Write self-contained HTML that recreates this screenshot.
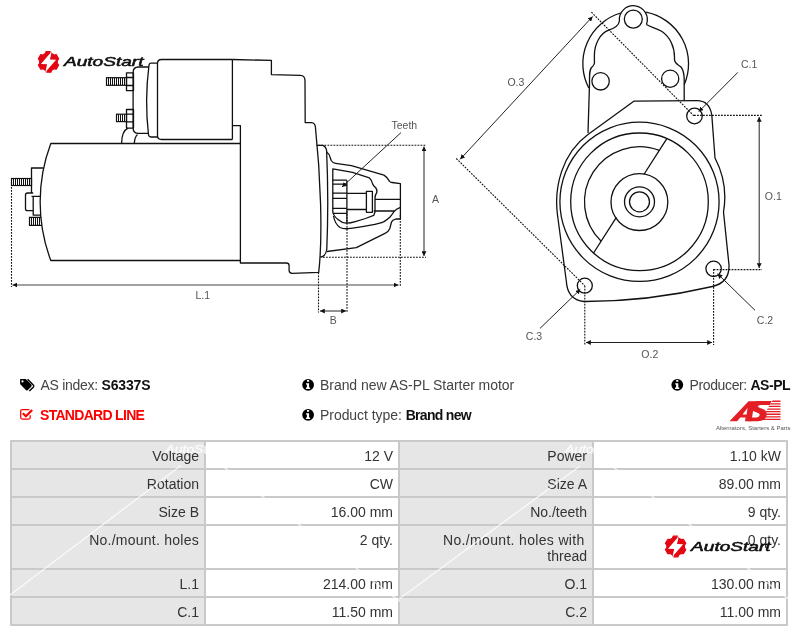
<!DOCTYPE html>
<html><head><meta charset="utf-8">
<style>
*{margin:0;padding:0;box-sizing:border-box}
html,body{width:800px;height:636px;background:#fff;overflow:hidden}
#wrap{position:relative;width:800px;height:636px;background:#fff;will-change:transform;overflow:hidden}
body{position:relative;font-family:"Liberation Sans",sans-serif;color:#333}
.a{position:absolute;white-space:nowrap}
#tbl{position:absolute;left:10px;top:440px;width:778px;height:186px;background:#c9c9c9;border-radius:1px}
.c{position:absolute;width:192px;font-size:14px;line-height:16px;text-align:right;padding:6px 5px 0 0;color:#333}
.l{background:#e6e6e6}
.v{background:#fff}
.info{font-size:14px;color:#444;line-height:16px}
.info b{color:#111}
svg text{font-family:"Liberation Sans",sans-serif}
</style></head><body><div id="wrap">

<!-- DRAWING -->
<svg id="drw" class="a" style="left:0;top:0" width="800" height="360" viewBox="0 0 800 360">
<defs>
<marker id="ar" viewBox="0 0 10 10" refX="10" refY="5" markerWidth="4.8" markerHeight="5" preserveAspectRatio="none" markerUnits="userSpaceOnUse" orient="auto-start-reverse"><path d="M0,0 L10,5 L0,10 z" fill="#111"/></marker>
</defs>
<g fill="none" stroke="#111" stroke-width="1.3" stroke-linejoin="round">
<!-- motor body -->
<path d="M240.4,143.5 L50.8,143.5 A166,166 0 0 0 50.8,260.5 L240.4,260.5"/>
<!-- solenoid main -->
<path d="M232.4,59.5 L161.5,59.5 Q157.5,59.5 157.5,63.5 L157.5,135.5 Q157.5,139.5 161.5,139.5 L232.4,139.5"/>
<path d="M232.4,59.5 L271.4,60.4 L271.4,74.6 L300.5,75.4 Q305,75.6 305,81 L305.2,122.7 L311.5,122.7 Q315,123 315.4,127 C320.5,175 323,235 318.7,272.4 L292.2,273.3 Q289.2,273.2 289.1,270.5 L289.1,265.5 Q289,263 286.5,263 L240.4,263 L240.4,125.6 L232.4,125.6"/>
<path d="M232.4,59.5 L232.4,139.5"/>
<!-- cap -->
<path d="M157.5,63.2 L151,63.2 Q149.5,63.2 149,65 Q144.5,100 148.5,135 Q149,137 151,137 L157.5,137"/>
<!-- end plate -->
<path d="M149,67 L138.5,67 Q133.1,67 133.1,72.5 L133.1,128 Q133.1,133.4 138.5,133.4 L148.5,133.4"/>
<!-- nuts -->
<rect x="126.5" y="72.9" width="7" height="17.8"/>
<path d="M126.5,77.5 L133.5,77.5 M126.5,85.5 L133.5,85.5"/>
<rect x="126.5" y="109.5" width="7" height="18.6"/>
<path d="M126.5,114.2 L133.5,114.2 M126.5,121.8 L133.5,121.8"/>
<!-- arcs below solenoid -->
<path d="M121.6,143.2 Q121.8,131 128,128.1"/>
<path d="M134.3,143.2 Q134.8,136.5 137.5,134.5"/>
<!-- rear end -->
<path d="M43.4,168 L31.5,168 L31.5,193 M31.5,196.4 L40.3,196.4"/>
<path d="M33.2,193 L27.5,193 Q25.5,193 25.5,195 L25.5,208.7 Q25.5,210.7 27.5,210.7 L33.2,210.7"/>
<path d="M33.2,196.4 L33.2,215.1 L40.8,215.1"/>
</g>
<!-- threaded studs -->
<g fill="none" stroke="#111" stroke-width="1.2">
<rect x="106.5" y="77.7" width="20.0" height="7.6"/>
<rect x="116.5" y="114.2" width="10.0" height="7.4"/>
<rect x="11.5" y="178.5" width="20.0" height="7.0"/>
<path d="M41.2,217.3 L29.5,217.3 L29.5,225.3 L41.9,225.3"/>
</g>
<g stroke="#111" stroke-width="1">
<path d="M108.5,77.7V85.3M110.5,77.7V85.3M112.5,77.7V85.3M114.5,77.7V85.3M116.5,77.7V85.3M118.5,77.7V85.3M120.5,77.7V85.3M122.5,77.7V85.3M124.5,77.7V85.3M118.5,114.2V121.6M120.5,114.2V121.6M122.5,114.2V121.6M124.5,114.2V121.6M13.5,178.5V185.5M15.5,178.5V185.5M17.5,178.5V185.5M19.5,178.5V185.5M21.5,178.5V185.5M23.5,178.5V185.5M25.5,178.5V185.5M27.5,178.5V185.5M29.5,178.5V185.5M31.5,217.3V225.3M33.5,217.3V225.3M35.5,217.3V225.3M37.5,217.3V225.3M39.5,217.3V225.3"/>
</g>
<!-- nose -->
<g fill="none" stroke="#111" stroke-width="1.3" stroke-linejoin="round">
<path d="M316.5,145.3 L322.7,145.3 Q326,146.5 326.6,150.5 Q328.8,200 326.8,249 Q325.8,256.5 320.2,257.2"/>
<path d="M326.6,152 Q329.4,154 330,157 L331.2,160.5 Q332.5,162.8 335.6,163.3 L351.4,165.6 L384,175.1 Q387,177 389.6,181.3 Q390.5,182.4 392,182.5 L400.4,183.6 L400.4,219 L395.7,219 Q392.5,220 391.5,222 L389.8,228.5 Q388.5,232 385,233.3 L356.3,247.6 L327,251.5"/>
<path d="M332.8,212 L332.8,168.9 L345.7,171.2 L352.5,172.3 L369.4,177.9 Q371.5,179.5 372.7,184.1 Q374,186.5 375.6,187.5 Q377.5,190 376.8,192.5 Q375,195 375,198 L375,212 L373.7,215.4 L365.5,218.5 L355.3,221.6 Q350,223.3 346.1,223.1 Q342,223 338,219.5 Q333.5,216 332.8,212"/>
<path d="M333.5,216 Q335,224 340,227.5 Q343,229 348.2,228.7 Q356,227.8 370.7,225.1 Q380,223.5 384,221.6 Q388,219 390,217 Q393,213.4 394,211.5 Q396,209 400.4,207.3"/>
<!-- pinion -->
<path d="M346.9,180.2 L346.9,223"/>
<path d="M332.8,180.2 L346.9,180.2 M332.8,184.1 L346.9,184.1 M332.8,193.1 L346.9,193.1 M332.8,198.3 L346.9,198.3 M332.8,208.4 L346.9,208.4 M332.8,213.4 L346.9,213.4"/>
<path d="M346.9,193.4 L366.4,193.4 M346.9,209.5 L366.4,209.5"/>
<rect x="366.4" y="191.4" width="6" height="20.9"/>
<path d="M375,199.4 L400.4,199.4 M373.7,211 L394,211"/>
</g>
<!-- left dims -->
<g fill="none" stroke="#111" stroke-width="1.1" stroke-dasharray="1.8 1.2">
<path d="M11.5,187 V287"/>
<path d="M400.3,215 V286"/>
<path d="M318.5,145.2 H426"/>
<path d="M323,257.2 H426"/>
<path d="M318.5,272.5 V312.5"/>
<path d="M347,211 V312.5"/>
</g>
<g fill="none" stroke="#222" stroke-width="1">
<path d="M12.5,285 H398.5" marker-start="url(#ar)" marker-end="url(#ar)" stroke="#444"/>
<path d="M424,146.5 V256" marker-start="url(#ar)" marker-end="url(#ar)"/>
<path d="M320,311 H346" marker-start="url(#ar)" marker-end="url(#ar)"/>
<path d="M401,132.6 L342,187" marker-end="url(#ar)"/>
</g>
<g font-size="10.5" fill="#555">
<text x="195.5" y="299.3">L.1</text>
<text x="432" y="203.4">A</text>
<text x="329.8" y="323.6">B</text>
<text x="391.5" y="129.3">Teeth</text>
</g>
<!-- right drawing -->
<g fill="none" stroke="#111" stroke-width="1.3" stroke-linejoin="round">
<!-- solenoid outline -->
<path d="M588.8,88 A52.75,52.75 0 0 1 620.8,13 M646,12.1 A52.75,52.75 0 0 1 684.2,84.8"/>
<path d="M619.4,21 A14,14 0 1 1 646.5,24.5"/>
<path d="M619.4,21 C618.8,26 613.5,28.6 608.6,30.2 C600,33.5 594.5,44 594.4,55 L594.4,61 C595,64 594,65.5 591.5,67.5 C589.3,70 589.5,74 589.5,84 L588,133"/>
<path d="M646.5,24.5 C650,27 655,27.5 662,31.5 C670,37 674.5,47 674.5,57 L674.5,60 C675,64 678,64.5 681,67 C683.5,70 684.2,74 684.2,80 L684.2,100.6"/>
<circle cx="633.3" cy="19.1" r="9"/>
<circle cx="600.6" cy="81.3" r="8.7"/>
<circle cx="670.2" cy="78.7" r="8.6"/>
<!-- flange -->
<path d="M633.8,101.2 L697,100.6 Q709.5,100.6 711.8,115 L715,158 A85,85 0 0 1 723.5,212 L729,265 C729.5,277 723,284 712.5,286.5 Q647.8,301.6 584,301.5 C573,300.5 567,293 566.3,281 L557.5,215 C553.8,187.3 562.1,153.3 588,134.5 Z"/>
<circle cx="639.5" cy="201.8" r="79.6"/>
<circle cx="639.5" cy="201.8" r="68.8"/>
<circle cx="639.4" cy="202.1" r="28.4"/>
<circle cx="639.5" cy="201.8" r="15"/>
<circle cx="639.5" cy="201.8" r="10"/>
<path d="M659.27,150.47 A55,55 0 0 0 601.13,241.21"/>
<path d="M666.84,138.67 L644.02,174.27 M616.38,217.41 L593.56,253.01"/>
<circle cx="694.5" cy="116" r="7.8"/>
<circle cx="713.6" cy="268.8" r="7.7"/>
<circle cx="584.8" cy="285.7" r="7.5"/>
</g>
<g fill="none" stroke="#111" stroke-width="1.1" stroke-dasharray="1.8 1.2">
<path d="M591.4,12.2 L694,116"/>
<path d="M456.3,158.5 L584.8,285.7"/>
<path d="M694,115.4 H762"/>
<path d="M713.6,269.6 H762"/>
<path d="M584.8,285.7 V345"/>
<path d="M713.6,269 V345"/>
</g>
<g fill="none" stroke="#222" stroke-width="1">
<path d="M460.2,159.3 L592.6,16.5" marker-start="url(#ar)" marker-end="url(#ar)"/>
<path d="M759.2,117 V268" marker-start="url(#ar)" marker-end="url(#ar)"/>
<path d="M586,342.5 H712" marker-start="url(#ar)" marker-end="url(#ar)"/>
<path d="M737.8,72.4 L698.8,111.6" marker-end="url(#ar)"/>
<path d="M755,310.3 L717.6,273.8" marker-end="url(#ar)"/>
<path d="M540,328.4 L580.3,289.4" marker-end="url(#ar)"/>
</g>
<g font-size="10.5" fill="#555">
<text x="507.4" y="85.8">O.3</text>
<text x="741" y="67.6">C.1</text>
<text x="764.8" y="200">O.1</text>
<text x="756.8" y="324.3">C.2</text>
<text x="641.3" y="357.5">O.2</text>
<text x="525.8" y="340">C.3</text>
</g>
<!-- logo -->
<g id="logo">
<g transform="translate(48.5,61.9)">
<path fill="#e30613" d="M3.19,-8.31 L2.38,-10.33 L-2.38,-10.33 L-3.19,-8.31 L-5.60,-6.92 L-7.75,-7.23 L-10.14,-3.10 L-8.79,-1.39 L-8.79,1.39 L-10.14,3.10 L-7.75,7.23 L-5.60,6.92 L-3.19,8.31 L-2.38,10.33 L2.38,10.33 L3.19,8.31 L5.60,6.92 L7.75,7.23 L10.14,3.10 L8.79,1.39 L8.79,-1.39 L10.14,-3.10 L7.75,-7.23 L5.60,-6.92 Z" stroke="#e30613" stroke-width="1.2" stroke-linejoin="round"/>
<path fill="#fff" d="M2.4,-12 L3.6,-12 L1.4,-2.4 L7.6,-2.2 L-1.9,8.8 L-2.4,12 L-3.6,12 L-1.4,2.4 L-7.6,2.2 L1.9,-8.8 Z"/>
</g>
<text x="64" y="66" font-size="13.6" font-style="italic" fill="#111" stroke="#111" stroke-width="0.55" textLength="79.5" lengthAdjust="spacingAndGlyphs">AutoStart</text>
</g>

</svg>


<!-- ICONS -->
<svg class="a" style="left:0;top:360px" width="800" height="80" viewBox="0 360 800 80">
<path fill="#000" d="M20.3,379 L25.8,379 L31.4,384.6 Q31.9,385.5 31.4,386.4 L27.6,390.2 Q26.9,390.9 26.1,390.2 L20.5,384.6 Q20.1,384.2 20.1,383.6 L20.1,379.3 Z"/>
<circle cx="22.5" cy="381.4" r="1.05" fill="#fff"/>
<path fill="none" stroke="#000" stroke-width="1.4" stroke-linejoin="round" d="M27.6,379.3 L33.5,385.2 Q34.2,386 33.5,386.9 L29.3,391"/>
<path fill="none" stroke="#f00" stroke-width="1.3" d="M29.4,409.6 L22.3,409.6 Q20.7,409.6 20.7,411.2 L20.7,417.6 Q20.7,419.1 22.3,419.1 L28.6,419.1 Q30.2,419.1 30.2,417.6 L30.2,415.2"/>
<path fill="none" stroke="#f00" stroke-width="2.2" d="M22.8,413.2 L25.9,416.3 L32.2,410"/>
<g>
<circle cx="308.1" cy="384.8" r="5.9" fill="#000"/>
<path fill="#fff" d="M307,379.9 h2.1 v1.9 h-2.1z M306,383.2 h3.1 v4.4 h1 v1.3 h-4.2 v-1.3 h1 v-3.1 h-0.9z"/>
</g>
<g transform="translate(0,30)">
<circle cx="308.1" cy="384.8" r="5.9" fill="#000"/>
<path fill="#fff" d="M307,379.9 h2.1 v1.9 h-2.1z M306,383.2 h3.1 v4.4 h1 v1.3 h-4.2 v-1.3 h1 v-3.1 h-0.9z"/>
</g>
<g transform="translate(369.2,0)">
<circle cx="308.1" cy="384.8" r="5.9" fill="#000"/>
<path fill="#fff" d="M307,379.9 h2.1 v1.9 h-2.1z M306,383.2 h3.1 v4.4 h1 v1.3 h-4.2 v-1.3 h1 v-3.1 h-0.9z"/>
</g>
<!-- AS-PL logo -->
<g fill="#e31e24">
<path d="M729.5,421.3 L748.5,401.3 L754.5,401.3 L751.5,421.3 L745,421.3 L745.6,417.5 L740.3,417.5 L737,421.3 Z" fill-rule="evenodd"/><path fill="#fff" d="M742.6,414.5 L746.6,414.5 L747.6,407.8 Z"/>
<path d="M771.5,401 L757,401 Q751,401 750.4,406 Q749.8,410.5 755.5,412 Q760.5,413.5 759.5,415.5 Q758.7,417.5 755,417.5 L748.5,417.5 L747.8,421.3 L757.5,421.3 Q765.5,421.3 766.6,415 Q767.3,410 761.5,408.6 Q757.5,407.5 758,406.2 Q758.5,405 761,405 L770,405 Z"/>
<path d="M772.5,400.6 h8 v1.3 h-8.9z M771,403.2 h9.5 v1.3 h-10.4z M769.3,405.8 h11.2 v1.3 h-12z M767.8,408.4 h12.7 v1.3 h-13.6z M766.2,411 h14.3 v1.3 h-15.2z M764.6,413.6 h15.9 v1.3 h-16.8z M763,416.2 h17.5 v1.3 h-18.4z M761.4,418.8 h19.1 v1.3 h-20z"/>
</g>
<text x="716" y="429.6" font-size="5.2" fill="#555" textLength="74.4" lengthAdjust="spacingAndGlyphs">Alternators, Starters &amp; Parts</text>
</svg>

<!-- INFO -->
<div class="a info" style="left:40.5px;top:377px"><span style="letter-spacing:-0.28px">AS index: </span><b style="letter-spacing:-0.15px">S6337S</b></div>
<div class="a info" style="left:40px;top:407px;color:#f00;font-weight:bold;letter-spacing:-0.7px">STANDARD LINE</div>
<div class="a info" style="left:320px;top:377px;letter-spacing:-0.05px">Brand new AS-PL Starter motor</div>
<div class="a info" style="left:320px;top:407px"><span style="letter-spacing:-0.05px">Product type: </span><b style="letter-spacing:-0.7px">Brand new</b></div>
<div class="a info" style="left:689.5px;top:377px"><span style="letter-spacing:-0.37px">Producer: </span><b style="letter-spacing:-0.45px">AS-PL</b></div>

<!-- TABLE -->
<div id="tbl">
  <div class="c l" style="left:2px;top:2px;height:26px">Voltage</div>
  <div class="c v" style="left:196px;top:2px;height:26px">12 V</div>
  <div class="c l" style="left:390px;top:2px;height:26px">Power</div>
  <div class="c v" style="left:584px;top:2px;height:26px">1.10 kW</div>

  <div class="c l" style="left:2px;top:30px;height:26px">Rotation</div>
  <div class="c v" style="left:196px;top:30px;height:26px">CW</div>
  <div class="c l" style="left:390px;top:30px;height:26px">Size A</div>
  <div class="c v" style="left:584px;top:30px;height:26px">89.00 mm</div>

  <div class="c l" style="left:2px;top:58px;height:26px">Size B</div>
  <div class="c v" style="left:196px;top:58px;height:26px">16.00 mm</div>
  <div class="c l" style="left:390px;top:58px;height:26px">No./teeth</div>
  <div class="c v" style="left:584px;top:58px;height:26px">9 qty.</div>

  <div class="c l" style="left:2px;top:86px;height:42px"><span style="letter-spacing:0.25px">No./mount. holes</span></div>
  <div class="c v" style="left:196px;top:86px;height:42px">2 qty.</div>
  <div class="c l" style="left:390px;top:86px;height:42px"><span style="letter-spacing:0.33px">No./mount. holes with</span><span style="display:inline-block;width:2.4px"></span><br>thread</div>
  <div class="c v" style="left:584px;top:86px;height:42px">0 qty.</div>

  <div class="c l" style="left:2px;top:130px;height:26px">L.1</div>
  <div class="c v" style="left:196px;top:130px;height:26px">214.00 mm</div>
  <div class="c l" style="left:390px;top:130px;height:26px">O.1</div>
  <div class="c v" style="left:584px;top:130px;height:26px">130.00 mm</div>

  <div class="c l" style="left:2px;top:158px;height:26px">C.1</div>
  <div class="c v" style="left:196px;top:158px;height:26px">11.50 mm</div>
  <div class="c l" style="left:390px;top:158px;height:26px">C.2</div>
  <div class="c v" style="left:584px;top:158px;height:26px">11.00 mm</div>
</div>


<!-- TABLE OVERLAY -->
<svg class="a" style="left:0;top:436px" width="800" height="200" viewBox="0 436 800 200">
<g stroke="#fff" stroke-width="1.4" opacity="0.75" fill="none">
<path d="M10,595 L181,465.5"/>
<path d="M398.5,599.5 L580,466"/>
<path d="M205,452.7 L400,601.5"/>
<path d="M593,452 L790,600"/>
</g>
<g fill="#fff" stroke="#fff" stroke-width="0.35" opacity="0.8" font-size="10" font-style="italic">
<text x="165.5" y="452.5" textLength="58" lengthAdjust="spacingAndGlyphs">AutoStart</text>
<text x="565" y="452.5" textLength="58" lengthAdjust="spacingAndGlyphs">AutoStart</text>
</g>
<g transform="translate(627.1,484.6)">
<g transform="translate(48.5,61.9)">
<path fill="#e30613" d="M3.19,-8.31 L2.38,-10.33 L-2.38,-10.33 L-3.19,-8.31 L-5.60,-6.92 L-7.75,-7.23 L-10.14,-3.10 L-8.79,-1.39 L-8.79,1.39 L-10.14,3.10 L-7.75,7.23 L-5.60,6.92 L-3.19,8.31 L-2.38,10.33 L2.38,10.33 L3.19,8.31 L5.60,6.92 L7.75,7.23 L10.14,3.10 L8.79,1.39 L8.79,-1.39 L10.14,-3.10 L7.75,-7.23 L5.60,-6.92 Z" stroke="#e30613" stroke-width="1.2" stroke-linejoin="round"/>
<path fill="#fff" d="M2.4,-12 L3.6,-12 L1.4,-2.4 L7.6,-2.2 L-1.9,8.8 L-2.4,12 L-3.6,12 L-1.4,2.4 L-7.6,2.2 L1.9,-8.8 Z"/>
</g>
<text x="64" y="66" font-size="13.6" font-style="italic" fill="#111" stroke="#111" stroke-width="0.55" textLength="79.5" lengthAdjust="spacingAndGlyphs">AutoStart</text>
</g>
</svg>

</div></body></html>
